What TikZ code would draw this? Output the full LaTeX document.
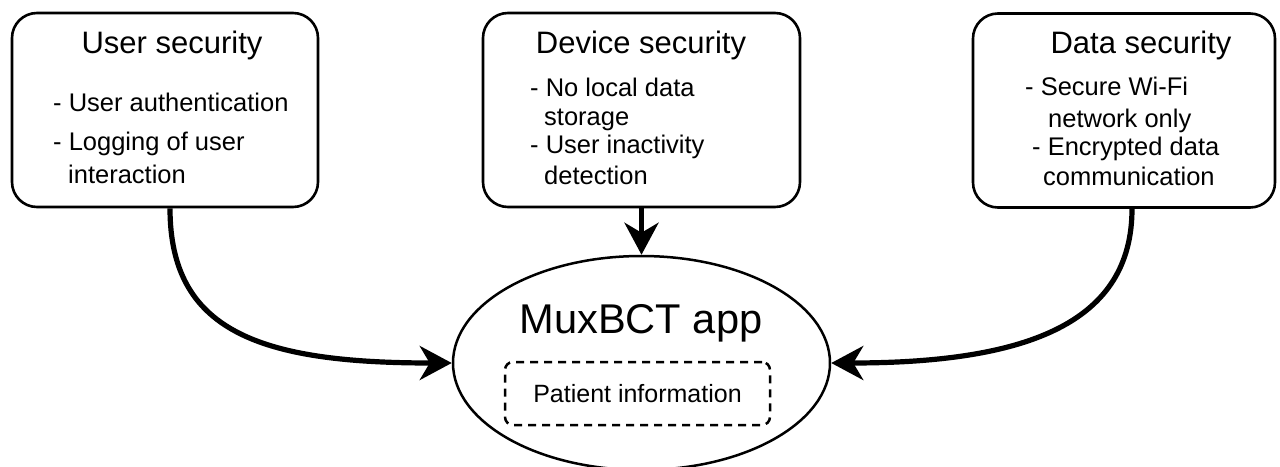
\documentclass[tikz,border=0pt]{standalone}
\usepackage{fontspec}
\setmainfont{Liberation Sans}
\usetikzlibrary{arrows.meta,shapes.geometric}

\tikzset{
  secbox/.style={draw, line width=2.6pt, rounded corners=25pt, minimum height=194pt, inner sep=0pt},
  boxtitle/.style={anchor=base, inner sep=0pt, font=\fontsize{31}{37}\selectfont},
  item/.style={anchor=base west, inner sep=0pt, font=\fontsize{25.5}{30}\selectfont},
  arr/.style={line width=5.2pt, -{Stealth[length=32pt,width=34pt,inset=10pt]}},
}

\begin{document}
\begin{tikzpicture}[x=1pt, y=-1pt]
\useasboundingbox (0,0) rectangle (1280,466);

% the three boxes
\node[secbox, minimum width=306pt] (user) at (165,110) {};
\node[secbox, minimum width=317pt] (device) at (641.5,110) {};
\node[secbox, minimum width=302pt] (data) at (1124,110.5) {};

\node[boxtitle] (usertitle) at (172,53) {User security};
\node[item] (user1) at (53,111) {- User authentication};
\node[item] (user2) at (53,150) {- Logging of user};
\node[item] (user3) at (68,183) {interaction};

\node[boxtitle] (devicetitle) at (641,53) {Device security};
\node[item] (device1) at (530,96) {- No local data};
\node[item] (device2) at (544,125) {storage};
\node[item] (device3) at (530,153) {- User inactivity};
\node[item] (device4) at (544,184) {detection};

\node[boxtitle] (datatitle) at (1141,53) {Data security};
\node[item] (data1) at (1025,95) {- Secure Wi-Fi};
\node[item] (data2) at (1048,127) {network only};
\node[item] (data3) at (1032,155) {- Encrypted data};
\node[item] (data4) at (1043,185) {communication};

% the app
\node[draw, ellipse, line width=2.5pt, minimum width=377pt, minimum height=214pt, inner sep=0pt] (app) at (641.5,363) {};
\node[anchor=base, inner sep=0pt, font=\fontsize{41.6}{50}\selectfont] (apptitle) at (641,333) {MuxBCT app};
\node[draw, dashed, dash pattern=on 8pt off 6pt, line width=2.5pt, rounded corners=8pt,
      minimum width=265pt, minimum height=63pt, inner sep=0pt, font=\fontsize{25}{30}\selectfont] (info) at (637.5,393.5) {Patient information};

% arrows
\draw[arr] ([xshift=5pt]user.south) .. controls +(0,123) and +(-192,0) .. (app.west);
\draw[arr] (device.south) -- (app.north);
\draw[arr] ([xshift=8pt]data.south) .. controls +(0,112) and +(200,0) .. (app.east);
\end{tikzpicture}
\end{document}
